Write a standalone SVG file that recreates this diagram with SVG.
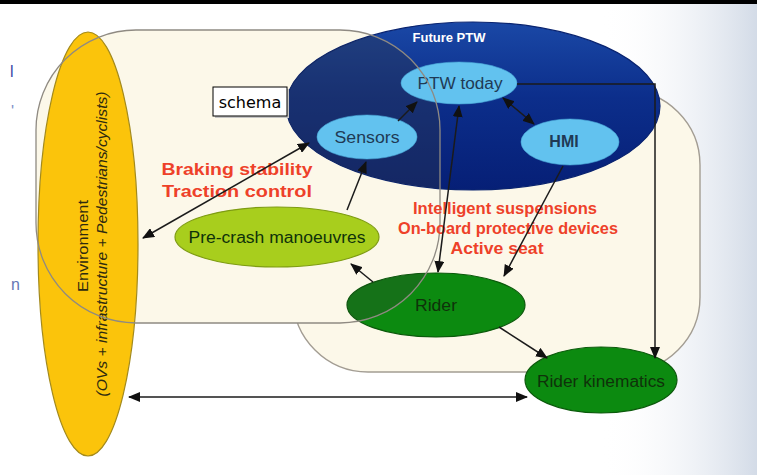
<svg xmlns="http://www.w3.org/2000/svg" width="757" height="475" viewBox="0 0 757 475">
  <style>
    .zone { fill: #fcf8e9; stroke: #a39d93; stroke-width: 1.4; }
    .zone-edge { fill: none; stroke: #8f8a82; stroke-width: 1.3; }
    .sky { fill: #62c2ef; stroke: #4aa9d8; stroke-width: 0.6; }
    .sky-txt { font-family: "Liberation Sans", Arial, sans-serif; font-size: 16px; fill: #1f3a55; text-anchor: middle; }
    .green { fill: #0c8a10; stroke: #0b5a0b; stroke-width: 1.2; }
    .green-txt { font-family: "Liberation Sans", Arial, sans-serif; font-size: 16px; fill: #0f320a; text-anchor: middle; }
    .red { font-family: "Liberation Sans", Arial, sans-serif; font-size: 16.5px; font-weight: bold; fill: #ee4129; text-anchor: middle; }
    .link { fill: none; stroke: #1b1b1b; stroke-width: 1.5; }
    .side { font-family: "Liberation Sans", Arial, sans-serif; font-size: 16px; }
  </style>
  <defs>
    <marker id="tip" viewBox="0 0 12 10" refX="11" refY="5" markerWidth="12" markerHeight="10" markerUnits="userSpaceOnUse" orient="auto-start-reverse">
      <path d="M0,0 L12,5 L0,10 z" fill="#111"/>
    </marker>
    <linearGradient id="edgeFade" x1="0" y1="0" x2="1" y2="0">
      <stop offset="0" stop-color="#ffffff" stop-opacity="0"/>
      <stop offset="1" stop-color="#d3dbe7"/>
    </linearGradient>
    <linearGradient id="navy" x1="0" y1="0" x2="0" y2="1">
      <stop offset="0" stop-color="#1a48a6"/>
      <stop offset="0.45" stop-color="#0c2e8b"/>
      <stop offset="1" stop-color="#061f76"/>
    </linearGradient>
    <clipPath id="inBlue">
      <ellipse cx="473" cy="106" rx="187" ry="84"/>
    </clipPath>
    <clipPath id="inRider">
      <ellipse cx="436" cy="305" rx="89" ry="32"/>
    </clipPath>
  </defs>

  <!-- page background -->
  <rect x="0" y="0" width="757" height="475" fill="#ffffff"/>
  <rect x="600" y="0" width="157" height="475" fill="url(#edgeFade)"/>
  <rect x="0" y="0" width="757" height="4" fill="#000000"/>

  <!-- cut-off slide text at the left margin -->
  <text class="side" x="10" y="77" fill="#3b4ba6">l</text>
  <text class="side" x="11" y="117" fill="#8090c8">'</text>
  <text class="side" x="11" y="290" fill="#6677b5">n</text>

  <!-- background zones -->
  <rect id="zone-right" class="zone" x="293" y="90" width="407" height="282" rx="75" ry="75"/>
  <rect id="zone-left-fill" x="36" y="30" width="404" height="293" rx="100" ry="100" fill="#fcf8e9" stroke="none"/>

  <!-- Future PTW -->
  <g id="future-ptw">
    <ellipse cx="473" cy="106" rx="187" ry="84" fill="url(#navy)" stroke="#0a2470" stroke-width="1.2"/>
    <rect x="36" y="30" width="404" height="293" rx="100" ry="100" fill="#2c3446" fill-opacity="0.38" clip-path="url(#inBlue)"/>
    <text x="449" y="42" font-family="Liberation Sans, Arial, sans-serif" font-size="13" font-weight="bold" fill="#ffffff" text-anchor="middle">Future PTW</text>
  </g>

  <!-- Environment -->
  <g id="environment">
    <ellipse cx="88" cy="244" rx="50" ry="212" fill="#fbc40b" stroke="#a38a1c" stroke-width="1.2"/>
    <text transform="translate(88,246) rotate(-90)" font-family="Liberation Sans, Arial, sans-serif" font-size="15.5" fill="#2e2a10" text-anchor="middle" textLength="92" lengthAdjust="spacingAndGlyphs">Environment</text>
    <text transform="translate(107,244) rotate(-90)" font-family="Liberation Sans, Arial, sans-serif" font-size="14" font-style="italic" fill="#2e2a10" text-anchor="middle" textLength="305" lengthAdjust="spacingAndGlyphs">(OVs + infrastructure + Pedestrians/cyclists)</text>
  </g>

  <g id="ptw-today">
    <ellipse class="sky" cx="459" cy="83" rx="58" ry="21"/>
    <text class="sky-txt" x="460" y="89" textLength="85" lengthAdjust="spacingAndGlyphs">PTW today</text>
  </g>

  <g id="sensors">
    <ellipse class="sky" cx="367" cy="137" rx="50" ry="22"/>
    <text class="sky-txt" x="367" y="143" textLength="65" lengthAdjust="spacingAndGlyphs">Sensors</text>
  </g>

  <g id="hmi">
    <ellipse class="sky" cx="570" cy="142" rx="49" ry="23"/>
    <text class="sky-txt" x="564" y="147" font-size="13" font-weight="bold" fill="#2a4560">HMI</text>
  </g>

  <g id="pre-crash">
    <ellipse cx="277" cy="237" rx="102" ry="30" fill="#a8ce1d" stroke="#7e9c12" stroke-width="1.2"/>
    <text class="green-txt" x="277" y="243" fill="#22330a" textLength="177" lengthAdjust="spacingAndGlyphs">Pre-crash manoeuvres</text>
  </g>

  <g id="rider">
    <ellipse class="green" cx="436" cy="305" rx="89" ry="32"/>
    <rect x="36" y="30" width="404" height="293" rx="100" ry="100" fill="#2a3a2a" fill-opacity="0.3" clip-path="url(#inRider)"/>
    <text class="green-txt" x="436" y="311" textLength="42" lengthAdjust="spacingAndGlyphs">Rider</text>
  </g>

  <g id="rider-kinematics">
    <ellipse class="green" cx="601" cy="380" rx="76" ry="33"/>
    <text class="green-txt" x="601" y="387" textLength="128" lengthAdjust="spacingAndGlyphs">Rider kinematics</text>
  </g>

  <!-- outline of the left zone, drawn over the nodes it crosses -->
  <rect id="zone-left" class="zone-edge" x="36" y="30" width="404" height="293" rx="100" ry="100"/>

  <!-- measure labels -->
  <g id="labels">
    <text class="red" x="237" y="175" textLength="151" lengthAdjust="spacingAndGlyphs">Braking stability</text>
    <text class="red" x="237" y="197" textLength="150" lengthAdjust="spacingAndGlyphs">Traction control</text>
    <text class="red" x="505" y="214" textLength="184" lengthAdjust="spacingAndGlyphs">Intelligent suspensions</text>
    <text class="red" x="508" y="234" textLength="220" lengthAdjust="spacingAndGlyphs">On-board protective devices</text>
    <text class="red" x="497" y="254" textLength="93" lengthAdjust="spacingAndGlyphs">Active seat</text>
  </g>

  <!-- connectors -->
  <g id="connectors">
    <line class="link" x1="143" y1="238" x2="309" y2="143" marker-start="url(#tip)" marker-end="url(#tip)"/>
    <line class="link" x1="347" y1="210" x2="366" y2="162" marker-end="url(#tip)"/>
    <line class="link" x1="398" y1="121" x2="417" y2="102" marker-end="url(#tip)"/>
    <line class="link" x1="503" y1="98" x2="534" y2="124" marker-start="url(#tip)" marker-end="url(#tip)"/>
    <line class="link" x1="438" y1="272" x2="459" y2="106" marker-start="url(#tip)" marker-end="url(#tip)"/>
    <line class="link" x1="563" y1="166" x2="504" y2="276" marker-end="url(#tip)"/>
    <line class="link" x1="373" y1="282" x2="351" y2="264" marker-end="url(#tip)"/>
    <line class="link" x1="499" y1="327" x2="547" y2="358" marker-end="url(#tip)"/>
    <path class="link" d="M517,84 H655 V358" marker-end="url(#tip)"/>
    <line class="link" x1="129" y1="397" x2="527" y2="397" stroke="#333" stroke-width="2" marker-start="url(#tip)" marker-end="url(#tip)"/>
  </g>

  <!-- caption box -->
  <g id="schema">
    <rect x="215" y="89" width="74" height="29" fill="#c4c4c4"/>
    <rect x="213" y="87" width="74" height="29" fill="#ffffff" stroke="#000000" stroke-width="1"/>
    <text x="250" y="108" font-family="DejaVu Sans, Verdana, sans-serif" font-size="16" fill="#000000" text-anchor="middle">schema</text>
  </g>
</svg>
